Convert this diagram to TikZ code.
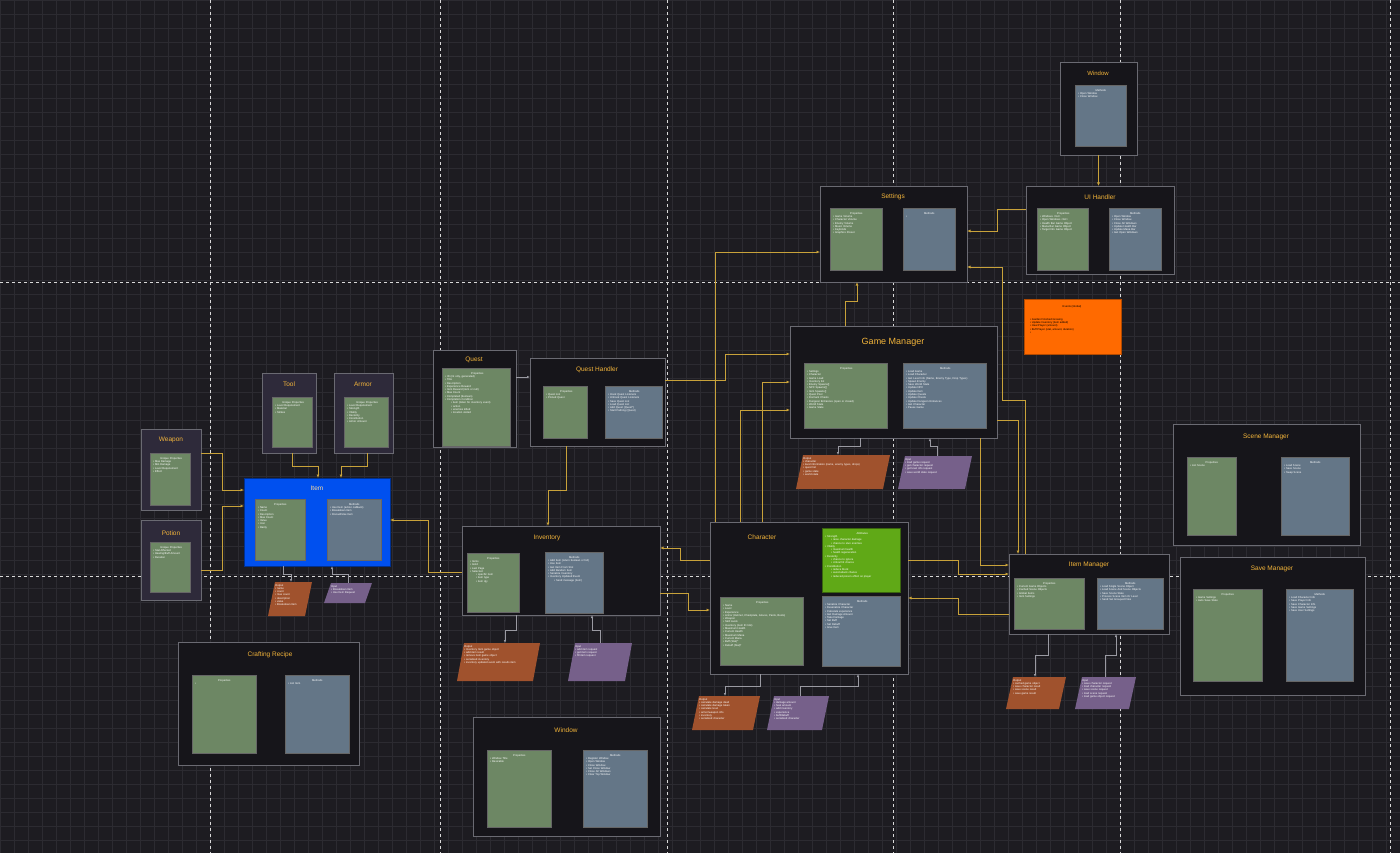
\documentclass[tikz,border=0pt]{standalone}
\usetikzlibrary{arrows.meta}
\usepackage{fontspec}
\setmainfont{Liberation Sans}
\definecolor{bgc}{HTML}{1D1C21}
\definecolor{gridc}{HTML}{2C2B31}
\definecolor{framec}{HTML}{16151A}
\definecolor{frameb}{HTML}{6A6A72}
\definecolor{subfr}{HTML}{2E2A3A}
\definecolor{greenp}{HTML}{6D8764}
\definecolor{slatep}{HTML}{647687}
\definecolor{itemblue}{HTML}{0050EF}
\definecolor{brightg}{HTML}{60A917}
\definecolor{orangeev}{HTML}{FF6A00}
\definecolor{outc}{HTML}{A0522D}
\definecolor{inc}{HTML}{76608A}
\definecolor{goldc}{HTML}{C8A23A}
\definecolor{titlec}{HTML}{F2B43A}
\definecolor{grayl}{HTML}{9A9AA2}
\tikzset{
 frm/.style={draw=frameb,fill=framec,line width=0.8pt},
 sfrm/.style={draw=frameb,fill=subfr,line width=0.8pt},
 gp/.style={draw=black!60,fill=greenp,line width=0.5pt},
 sp/.style={draw=black!60,fill=slatep,line width=0.5pt},
 ttl/.style={text=titlec,font=\fontsize{8}{9}\selectfont},
 txt/.style={text=white,font=\fontsize{2.7}{3.3}\selectfont,align=left,inner sep=0pt},
 con/.style={goldc,line width=0.8pt,-{Latex[length=3.5pt,width=3pt]}},
 gcon/.style={grayl,line width=0.7pt,-{Latex[length=3pt,width=2.5pt]}},
}
\newcommand\bx[6]{\node[#6,anchor=north west,inner sep=0pt,outer sep=0pt,minimum width={(#4-#2)*1pt},minimum height={(#5-#3)*1pt}] (#1) at (#2,#3) {};}
\newcommand\ptxt[3]{\node[txt,anchor=north west,text width={(#2)*1pt}] at ([shift={(3,4)}]#1.north west) {#3};}
\newcommand\pttl[2]{\node[txt,anchor=north] at ([yshift=-3pt]#1.north) {#2};}
\newcommand\para[7]{\node[inner sep=0pt,minimum width={(#4-#2)*1pt},minimum height={(#5-#3)*1pt},anchor=north west] (#1) at (#2,#3) {};
 \fill[#6] (#2,#5) -- (#4-7,#5) -- (#4,#3) -- (#2+7,#3) -- cycle;
 \node[txt,anchor=north,text width={(#4-#2-14)*1pt}] at ([yshift=-2pt]#1.north) {#7};}
\newcommand\bl{\textbullet\ }
\begin{document}
\begin{tikzpicture}[x=1pt,y=-1pt]
\fill[bgc] (0,0) rectangle (1400,853);
\useasboundingbox (0,0) rectangle (1400,853);
\draw[gridc,line width=0.4pt,step=14pt] (0,0) grid (1400,853);
\foreach \xx in {210,440,667,893,1120,1390} \draw[white!85!black,dashed,line width=0.6pt] (\xx,0) -- (\xx,853);
\foreach \yy in {282,576} \draw[white!85!black,dashed,line width=0.6pt] (0,\yy) -- (1400,\yy);

% Window top
\bx{winT}{1060}{62}{1137}{155}{frm}
\node[ttl,font=\fontsize{6}{7}\selectfont] at (1098,73) {Window};
\bx{winTm}{1075}{85}{1126}{146}{sp}
\ptxt{winTm}{45}{\centering Methods\par\raggedright \bl Open Window\\ \bl Close Window}

% Settings
\bx{set}{820}{186}{967}{282}{frm}
\node[ttl,font=\fontsize{6.5}{7}\selectfont] at (893,197) {Settings};
\bx{setp}{830}{208}{882}{270}{gp}
\ptxt{setp}{46}{\centering Properties\par\raggedright \bl Game Volume\\ \bl Character Volume\\ \bl Enemy Volume\\ \bl Music Volume\\ \bl Keybinds\\ \bl Graphics Preset}
\bx{setm}{903}{208}{955}{270}{sp}
\ptxt{setm}{46}{\centering Methods\par \textbullet}

% UI Handler
\bx{uiH}{1026}{186}{1174}{274}{frm}
\node[ttl,font=\fontsize{6.5}{7}\selectfont] at (1100,197) {UI Handler};
\bx{uip}{1037}{208}{1088}{270}{gp}
\ptxt{uip}{46}{\centering Properties\par\raggedright \bl Windows <list>\\ \bl Open Windows <list>\\ \bl Health Bar Game Object\\ \bl Mana Bar Game Object\\ \bl Target Info Game Object}
\bx{uim}{1109}{208}{1161}{270}{sp}
\ptxt{uim}{46}{\centering Methods\par\raggedright \bl Open Window\\ \bl Close Window\\ \bl Close All Windows\\ \bl Update Health Bar\\ \bl Update Mana Bar\\ \bl Get Open Windows}

% Events
\bx{ev}{1024}{299}{1121}{354}{draw=orangeev!70!black,fill=orangeev}
\node[txt,text=black,anchor=north] at (1072,305) {Events (Global)};
\node[txt,text=black,anchor=north west] at (1030,318) {\bl Garden Finished Growing\\ \bl Update Inventory (item added)\\ \bl Heal Player (amount)\\ \bl Buff Player (stat, amount, duration)\\ \textbullet};

% Game Manager
\bx{gm}{790}{326}{997}{438}{frm}
\node[ttl,font=\fontsize{9}{10}\selectfont] at (893,342) {Game Manager};
\bx{gmp}{804}{363}{887}{428}{gp}
\ptxt{gmp}{78}{\centering Properties\par\raggedright \bl Settings\\ \bl Character\\ \bl Game Load\\ \bl Inventory list\\ \bl Enemy Spawns[]\\ \bl NPC Spawns[]\\ \bl Item Spawns[]\\ \bl Quest Pool\\ \bl Dormant Chests\\ \bl Dungeon Entrances (open or closed)\\ \bl World State\\ \bl Game State}
\bx{gmm}{903}{363}{986}{428}{sp}
\ptxt{gmm}{78}{\centering Methods\par\raggedright \bl Load Game\\ \bl Load Character\\ \bl Get Level Info (Name, Enemy Type, Drop Types)\\ \bl Spawn Enemy\\ \bl Save World State\\ \bl Update NPC\\ \bl Update Item\\ \bl Update Quests\\ \bl Update Chests\\ \bl Update Dungeon Entrances\\ \bl Get Character\\ \bl Pause Game}
\para{gmo}{796}{455}{890}{489}{outc}{Output\par\raggedright \bl character\\ \bl level information (name, enemy types, drops)\\ \bl quest list\\ \bl game state\\ \bl world state}
\para{gmi}{898}{456}{972}{489}{inc}{Input\par\raggedright \bl load game request\\ \bl get character request\\ \bl get level info request\\ \bl save world state request}

% Quest
\bx{qst}{433}{350}{516}{447}{frm}
\node[ttl,font=\fontsize{6.5}{7}\selectfont] at (474,360) {Quest};
\bx{qstp}{442}{368}{510}{446}{gp}
\ptxt{qstp}{64}{\centering Properties\par\raggedright \bl ID (int only, generated)\\ \bl Title\\ \bl Description\\ \bl Experience Reward\\ \bl Item Reward (item or null)\\ \bl Max Count\\ \bl Completed (boolean)\\ \bl Completion Condition\\ \hspace*{6pt}\bl item (listen for inventory event)\\ \hspace*{6pt}\bl action\\ \hspace*{6pt}\bl enemies killed\\ \hspace*{6pt}\bl location visited}

% Quest Handler
\bx{qh}{530}{358}{665}{446}{frm}
\node[ttl,font=\fontsize{6.5}{7}\selectfont] at (597,370) {Quest Handler};
\bx{qhp}{543}{386}{587}{438}{gp}
\ptxt{qhp}{40}{\centering Properties\par\raggedright \bl Quest List\\ \bl Pinned Quest}
\bx{qhm}{605}{386}{662}{438}{sp}
\ptxt{qhm}{52}{\centering Methods\par\raggedright \bl Hook Quest Listeners\\ \bl Unhook Quest Listeners\\ \bl Save Quest List\\ \bl Load Quest List\\ \bl Add Quest (Quest*)\\ \bl Start Pathing (Quest)}

% Tool, Armor, Weapon, Potion
\bx{tool}{262}{373}{316}{453}{sfrm}
\node[ttl,font=\fontsize{6.5}{7}\selectfont] at (289,384) {Tool};
\bx{toolp}{272}{397}{312}{447}{gp}
\ptxt{toolp}{36}{\centering Unique Properties\par\raggedright \bl Level Requirement\\ \bl Material\\ \bl Strikes}
\bx{arm}{334}{373}{393}{453}{sfrm}
\node[ttl,font=\fontsize{6.5}{7}\selectfont] at (363,384) {Armor};
\bx{armp}{344}{397}{388}{447}{gp}
\ptxt{armp}{40}{\centering Unique Properties\par\raggedright \bl Level Requirement\\ \bl Strength\\ \bl Vitality\\ \bl Dexterity\\ \bl Constitution\\ \bl Armor Amount}
\bx{wpn}{141}{429}{201}{510}{sfrm}
\node[ttl,font=\fontsize{6.5}{7}\selectfont] at (171,440) {Weapon};
\bx{wpnp}{150}{453}{190}{505}{gp}
\ptxt{wpnp}{36}{\centering Unique Properties\par\raggedright \bl Max Damage\\ \bl Min Damage\\ \bl Level Requirement\\ \bl Effect}
\bx{pot}{141}{520}{201}{600}{sfrm}
\node[ttl,font=\fontsize{6.5}{7}\selectfont] at (171,533) {Potion};
\bx{potp}{150}{542}{190}{592}{gp}
\ptxt{potp}{36}{\centering Unique Properties\par\raggedright \bl Stat Affected\\ \bl Healing/Buff Amount\\ \bl Duration}

% Item
\bx{item}{244}{478}{390}{566}{draw=itemblue!60!black,fill=itemblue}
\node[text=titlec!50!white,font=\fontsize{6.5}{7}\selectfont] at (317,488) {Item};
\bx{itemp}{255}{499}{305}{560}{gp}
\ptxt{itemp}{44}{\centering Properties\par\raggedright \bl Name\\ \bl Count\\ \bl Description\\ \bl Max Count\\ \bl Value\\ \bl Icon\\ \bl Rarity}
\bx{itemm}{327}{499}{381}{560}{sp}
\ptxt{itemm}{48}{\centering Methods\par\raggedright \bl Use Item (action callback)\\ \bl Breakdown Item\\ \bl Discard/Use Item}
\para{itemo}{268}{582}{312}{616}{outc}{Output\par\raggedright \bl name\\ \bl count\\ \bl max count\\ \bl description\\ \bl value\\ \bl Breakdown Item}
\para{itemi}{324}{583}{372}{603}{inc}{Input\par\raggedright \bl Breakdown Item\\ \bl Use Item Request}

% Crafting Recipe
\bx{cr}{178}{642}{359}{765}{frm}
\node[ttl,font=\fontsize{6.5}{7}\selectfont] at (270,655) {Crafting Recipe};
\bx{crp}{192}{675}{256}{753}{gp}
\ptxt{crp}{58}{\centering Properties\par \textbullet}
\bx{crm}{285}{675}{349}{753}{sp}
\ptxt{crm}{58}{\centering Methods\par \bl List Item}

% Inventory
\bx{inv}{462}{526}{660}{615}{frm}
\node[ttl,font=\fontsize{6.5}{7}\selectfont] at (547,538) {Inventory};
\bx{invp}{467}{553}{519}{612}{gp}
\ptxt{invp}{46}{\centering Properties\par\raggedright \bl Items\\ \bl Gold\\ \bl Last Page\\ \bl Selected\\ \hspace*{6pt}\bl specific item\\ \hspace*{6pt}\bl item type\\ \hspace*{6pt}\bl item qty}
\bx{invm}{545}{552}{603}{613}{sp}
\ptxt{invm}{52}{\centering Methods\par\raggedright \bl Add Item (return boolean or full)\\ \bl Use Item\\ \bl Get Item From Slot\\ \bl Add Random Item\\ \bl Serialize Inventory\\ \bl Inventory Updated Event\\ \hspace*{6pt}\bl Send message (item)}
\para{invo}{457}{643}{540}{681}{outc}{Output\par\raggedright \bl Inventory Item game object\\ \bl add item result\\ \bl remove item game object\\ \bl serialized inventory\\ \bl inventory updated event with results item}
\para{invi}{568}{643}{632}{681}{inc}{Input\par\raggedright \bl add item request\\ \bl get item request\\ \bl fill item request}

% Window bottom
\bx{winB}{473}{717}{660}{836}{frm}
\node[ttl,font=\fontsize{6.5}{7}\selectfont] at (566,730) {Window};
\bx{winBp}{487}{750}{551}{827}{gp}
\ptxt{winBp}{58}{\centering Properties\par\raggedright \bl Window Title\\ \bl Resizable}
\bx{winBm}{583}{750}{647}{827}{sp}
\ptxt{winBm}{58}{\centering Methods\par\raggedright \bl Register Window\\ \bl Open Window\\ \bl Close Window\\ \bl Set Close Window\\ \bl Close All Windows\\ \bl Clear Top Window}

% Character
\bx{chr}{710}{522}{908}{674}{frm}
\node[ttl,font=\fontsize{6.5}{7}\selectfont] at (762,537) {Character};
\bx{chra}{822}{528}{900}{592}{draw=brightg!60!black,fill=brightg}
\ptxt{chra}{74}{\centering Attributes\par\raggedright \bl Strength\\ \hspace*{6pt}\bl raise character damage\\ \hspace*{6pt}\bl chance to stun enemies\\ \bl Vitality\\ \hspace*{6pt}\bl maximum health\\ \hspace*{6pt}\bl health regeneration\\ \bl Dexterity\\ \hspace*{6pt}\bl chance to ignore\\ \hspace*{6pt}\bl critical hit chance\\ \bl Constitution\\ \hspace*{6pt}\bl reduce block\\ \hspace*{6pt}\bl avoid attack chance\\ \hspace*{6pt}\bl reduced poison effect on player}
\bx{chrp}{720}{597}{803}{665}{gp}
\ptxt{chrp}{78}{\centering Properties\par\raggedright \bl Name\\ \bl Level\\ \bl Experience\\ \bl Armor (Helmet, Chestplate, Gloves, Pants, Boots)\\ \bl Weapon\\ \bl Skill levels\\ \bl Inventory (item ID link)\\ \bl Maximum Health\\ \bl Current Health\\ \bl Maximum Mana\\ \bl Current Mana\\ \bl Buff (Stat)*\\ \bl Debuff (Stat)*}
\bx{chrm}{822}{596}{900}{666}{sp}
\ptxt{chrm}{74}{\centering Methods\par\raggedright \bl Serialize Character\\ \bl Deserialize Character\\ \bl Calculate experience\\ \bl Get Damage Amount\\ \bl Take Damage\\ \bl Set Buff\\ \bl Set Debuff\\ \bl Give Item}
\para{chro}{692}{696}{760}{730}{outc}{Output\par\raggedright \bl calculate damage dealt\\ \bl calculate damage taken\\ \bl calculate level\\ \bl armor/weapon info\\ \bl inventory\\ \bl serialized character}
\para{chri}{767}{696}{829}{730}{inc}{Input\par\raggedright \bl damage amount\\ \bl heal amount\\ \bl add inventory\\ \bl experience\\ \bl buff/debuff\\ \bl serialized character}

% Scene Manager
\bx{scm}{1173}{424}{1360}{545}{frm}
\node[ttl,font=\fontsize{6.5}{7}\selectfont] at (1266,437) {Scene Manager};
\bx{scmp}{1187}{457}{1236}{535}{gp}
\ptxt{scmp}{43}{\centering Properties\par \bl List Scene}
\bx{scmm}{1281}{457}{1349}{535}{sp}
\ptxt{scmm}{62}{\centering Methods\par\raggedright \bl Load Scene\\ \bl Save Scene\\ \bl Swap Scene}

% Item Manager
\bx{imgr}{1009}{554}{1169}{634}{frm}
\node[ttl,font=\fontsize{6.5}{7}\selectfont] at (1089,565) {Item Manager};
\bx{imgrp}{1014}{578}{1084}{629}{gp}
\ptxt{imgrp}{64}{\centering Properties\par\raggedright \bl Current Game Objects\\ \bl Cached Scene Objects\\ \bl Global Items\\ \bl Item Settings}
\bx{imgrm}{1097}{578}{1163}{629}{sp}
\ptxt{imgrm}{60}{\centering Methods\par\raggedright \bl Load Single Scene Object\\ \bl Load Scene And Scene Objects\\ \bl Save Scene State\\ \bl Process Scene Item Or Level\\ \bl Send Set Grouped Files}
\para{imo}{1006}{677}{1066}{709}{outc}{Output\par\raggedright \bl cached game object\\ \bl save character result\\ \bl save scene result\\ \bl save game result}
\para{imi}{1075}{677}{1136}{709}{inc}{Input\par\raggedright \bl save character request\\ \bl load character request\\ \bl save scene request\\ \bl load scene request\\ \bl load game object request}

% Save Manager
\bx{svm}{1180}{557}{1365}{695}{frm}
\node[ttl,font=\fontsize{6.5}{7}\selectfont] at (1272,569) {Save Manager};
\bx{svmp}{1193}{589}{1262}{681}{gp}
\ptxt{svmp}{63}{\centering Properties\par\raggedright \bl Game Settings\\ \bl Auto Save State}
\bx{svmm}{1286}{589}{1353}{681}{sp}
\ptxt{svmm}{61}{\centering Methods\par\raggedright \bl Load Character Info\\ \bl Save Player Info\\ \bl Save Character Info\\ \bl Save Game Settings\\ \bl Save User Settings}

% connectors
\draw[con] (winT.south) -- (winT.south |- uiH.north);
\draw[con] (uiH.west |- 0,209) -- (997,209) -- (997,231) -- (set.east |- 0,231);
\draw[con] (gm.north -| 845,0) -- (845,301) -- (857,301) -- (set.south -| 857,0);
\draw[con] (imgr.north -| 1025,0) -- (1025,400) -- (1002,400) -- (1002,267) -- (set.east |- 0,267);
\draw[con] (chr.north -| 715,0) -- (715,252) -- (set.west |- 0,252);
\draw[con] (qh.east |- 0,380) -- (725,380) -- (725,354) -- (gm.west |- 0,354);
\draw[con] (chr.north -| 740,0) -- (740,410) -- (gm.west |- 0,410);
\draw[con] (chr.north -| 762,0) -- (762,382) -- (gm.west |- 0,382);
\draw[con] (gm.south -| 980,0) -- (980,565) -- (imgr.west |- 0,565);
\draw[con] (gm.east |- 0,420) -- (1018,420) -- (imgr.north -| 1018,0);
\draw[con] (chr.east |- 0,560) -- (958,560) -- (958,574) -- (imgr.west |- 0,574);
\draw[con] (imgr.west |- 0,614) -- (958,614) -- (958,598) -- (chr.east |- 0,598);
\draw[con] (chr.west |- 0,560) -- (680,560) -- (680,548) -- (inv.east |- 0,548);
\draw[con] (inv.east |- 0,593) -- (688,593) -- (688,610) -- (chr.west |- 0,610);
\draw[con] (inv.west |- 0,572) -- (428,572) -- (428,520) -- (item.east |- 0,520);
\draw[con] (qh.south -| 566,0) -- (566,490) -- (548,490) -- (inv.north -| 548,0);
\draw[gcon] (qst.east |- 0,377) -- (qh.west |- 0,377);
\draw[con] (wpn.east |- 0,453) -- (222,453) -- (222,490) -- (item.west |- 0,490);
\draw[con] (pot.east |- 0,570) -- (222,570) -- (222,506) -- (item.west |- 0,506);
\draw[con] (tool.south -| 292,0) -- (292,466) -- (318,466) -- (item.north -| 318,0);
\draw[con] (arm.south -| 367,0) -- (367,466) -- (341,466) -- (item.north -| 341,0);
% outputs / inputs
\draw[gcon] (item.south -| 283,0) -- (283,574) -- (291,574) -- (itemo.north -| 291,0);
\draw[gcon] (itemi.north -| 348,0) -- (348,574) -- (332,574) -- (item.south -| 332,0);
\draw[gcon] (inv.south -| 516,0) -- (516,630) -- (505,630) -- (invo.north -| 505,0);
\draw[gcon] (invi.north -| 600,0) -- (600,630) -- (592,630) -- (inv.south -| 592,0);
\draw[gcon] (chr.south -| 760,0) -- (760,686) -- (725,686) -- (chro.north -| 725,0);
\draw[gcon] (chri.north -| 800,0) -- (800,686) -- (858,686) -- (chr.south -| 858,0);
\draw[gcon] (gm.south -| 860,0) -- (860,446) -- (838,446) -- (gmo.north -| 838,0);
\draw[gcon] (gmi.north -| 937,0) -- (937,446) -- (930,446) -- (gm.south -| 930,0);
\draw[gcon] (imgr.south -| 1048,0) -- (1048,655) -- (1035,655) -- (imo.north -| 1035,0);
\draw[gcon] (imi.north -| 1105,0) -- (1105,655) -- (1116,655) -- (imgr.south -| 1116,0);
\end{tikzpicture}
\end{document}
